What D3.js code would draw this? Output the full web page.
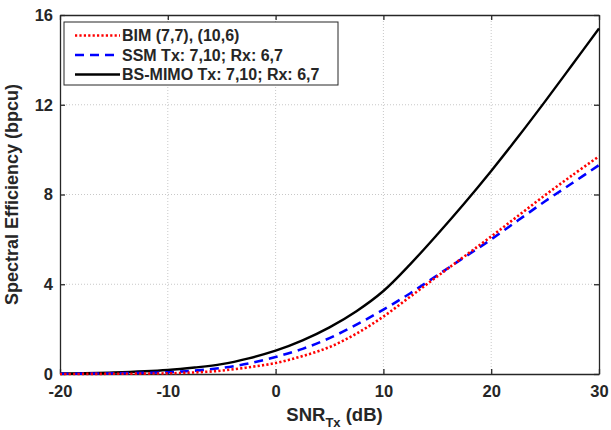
<!DOCTYPE html>
<html>
<head>
<meta charset="utf-8">
<script src="https://cdn.jsdelivr.net/npm/d3@7"></script>
<style>
body { margin: 0; background: #fff; }
text { font-family: "Liberation Sans", Arial, sans-serif; font-weight: bold; fill: #262626; }
</style>
</head>
<body>
<script>
"use strict"

// SNR values (dB)
var snr = [-20, -15, -10, -7.5, -5, -2.5, 0, 2.5, 5, 7.5, 10, 12.5, 15, 17.5, 20, 22.5, 25, 27.5, 30];
// spectral efficiency
var bim    = [0.0, 0.01, 0.03, 0.07, 0.15, 0.3, 0.49, 0.8, 1.2, 1.8, 2.56, 3.45, 4.35, 5.24, 6.13, 7.05, 7.97, 8.85, 9.7];
var ssm    = [0.01, 0.03, 0.08, 0.15, 0.27, 0.47, 0.76, 1.12, 1.6, 2.2, 2.87, 3.6, 4.4, 5.2, 6.0, 6.85, 7.7, 8.5, 9.31];
var bsmimo = [0.02, 0.07, 0.18, 0.29, 0.44, 0.7, 1.04, 1.5, 2.08, 2.8, 3.7, 4.9, 6.22, 7.6, 9.05, 10.57, 12.15, 13.77, 15.4];
var seriesNames = ["BIM (7,7), (10,6)", "SSM Tx: 7,10; Rx: 6,7", "BS-MIMO Tx: 7,10; Rx: 6,7"];
var xTicks = [-20, -10, 0, 10, 20, 30];
var yTicks = [0, 4, 8, 12, 16];

var margin = {top: 15, right: 12, bottom: 56, left: 60},
    width = 611 - margin.left - margin.right,
    height = 430 - margin.top - margin.bottom;

var svg = d3.select("body").append("svg")
    .attr("width", 611)
    .attr("height", 430)
  .append("g")
    .attr("transform", "translate(" + margin.left + "," + margin.top + ")");

var x = d3.scaleLinear().domain([-20, 30]).range([0, width]);
var y = d3.scaleLinear().domain([0, 16]).range([height, 0]);

// grid
svg.append("g").selectAll("line").data(xTicks.slice(1, -1)).enter().append("line")
    .attr("x1", d => x(d)).attr("x2", d => x(d))
    .attr("y1", 0).attr("y2", height)
    .attr("stroke", "#c8c8c8").attr("stroke-width", 1).attr("stroke-dasharray", "1,2");
svg.append("g").selectAll("line").data(yTicks.slice(1, -1)).enter().append("line")
    .attr("y1", d => y(d)).attr("y2", d => y(d))
    .attr("x1", 0).attr("x2", width)
    .attr("stroke", "#c8c8c8").attr("stroke-width", 1).attr("stroke-dasharray", "1,2");

// axes, ticks pointing inward
var fmt = function(d) { return String(d); };
var xAxis = svg.append("g").attr("transform", "translate(0," + height + ")")
    .call(d3.axisBottom(x).tickValues(xTicks).tickSizeInner(-5).tickSizeOuter(0).tickPadding(11).tickFormat(fmt));
var xTop = svg.append("g")
    .call(d3.axisTop(x).tickValues(xTicks).tickSizeInner(-5).tickSizeOuter(0).tickFormat(""));
var yAxis = svg.append("g")
    .call(d3.axisLeft(y).tickValues(yTicks).tickSizeInner(-5).tickSizeOuter(0).tickPadding(7).tickFormat(fmt));
var yRight = svg.append("g").attr("transform", "translate(" + width + ",0)")
    .call(d3.axisRight(y).tickValues(yTicks).tickSizeInner(-5).tickSizeOuter(0).tickFormat(""));

[xAxis, xTop, yAxis, yRight].forEach(function(a) {
    a.select(".domain").attr("stroke", "#262626").attr("stroke-width", 1.3);
    a.selectAll(".tick line").attr("stroke", "#262626").attr("stroke-width", 1.3);
    a.selectAll(".tick text").attr("font-size", "16.5px").attr("fill", "#262626")
        .attr("font-family", "Liberation Sans, Arial, sans-serif").attr("font-weight", "bold");
});

// lines
var line = function(vals) {
    return d3.line()
        .x(function(d, i) { return x(snr[i]); })
        .y(function(d) { return y(d); })
        .curve(d3.curveCatmullRom.alpha(0.5))(vals);
};

svg.append("path").attr("d", line(bsmimo))
    .attr("fill", "none").attr("stroke", "#000").attr("stroke-width", 2.4);
svg.append("path").attr("d", line(ssm))
    .attr("fill", "none").attr("stroke", "#0000ff").attr("stroke-width", 2.6)
    .attr("stroke-dasharray", "9,6");
svg.append("path").attr("d", line(bim))
    .attr("fill", "none").attr("stroke", "#ff0000").attr("stroke-width", 2.6)
    .attr("stroke-dasharray", "2.2,2.2");

// axis labels
svg.append("text")
    .attr("x", width / 2 + 5)
    .attr("y", height + 47)
    .attr("text-anchor", "middle")
    .attr("font-size", "18.5px")
    .html('SNR<tspan font-size="13px" dy="6">Tx</tspan><tspan dy="-6"> (dB)</tspan>');

svg.append("text")
    .attr("transform", "translate(-42," + (height / 2) + ") rotate(-90)")
    .attr("text-anchor", "middle")
    .attr("font-size", "18px")
    .text("Spectral Efficiency (bpcu)");

// legend
var legend = svg.append("g").attr("transform", "translate(4,7)");
legend.append("rect")
    .attr("width", 274).attr("height", 63)
    .attr("fill", "#fff").attr("stroke", "#262626").attr("stroke-width", 1);
var styles = [
    {color: "#ff0000", dash: "2.2,2.2", w: 2.6},
    {color: "#0000ff", dash: "9,6", w: 2.6},
    {color: "#000", dash: null, w: 2.4}
];
seriesNames.forEach(function(name, i) {
    var yy = 13.5 + i * 19.5;
    legend.append("line")
        .attr("x1", 11).attr("x2", 56).attr("y1", yy).attr("y2", yy)
        .attr("stroke", styles[i].color).attr("stroke-width", styles[i].w)
        .attr("stroke-dasharray", styles[i].dash);
    legend.append("text")
        .attr("x", 58).attr("y", yy + 5.5)
        .attr("font-size", "16px")
        .attr("fill", "#000")
        .text(name);
});
</script>
</body>
</html>
